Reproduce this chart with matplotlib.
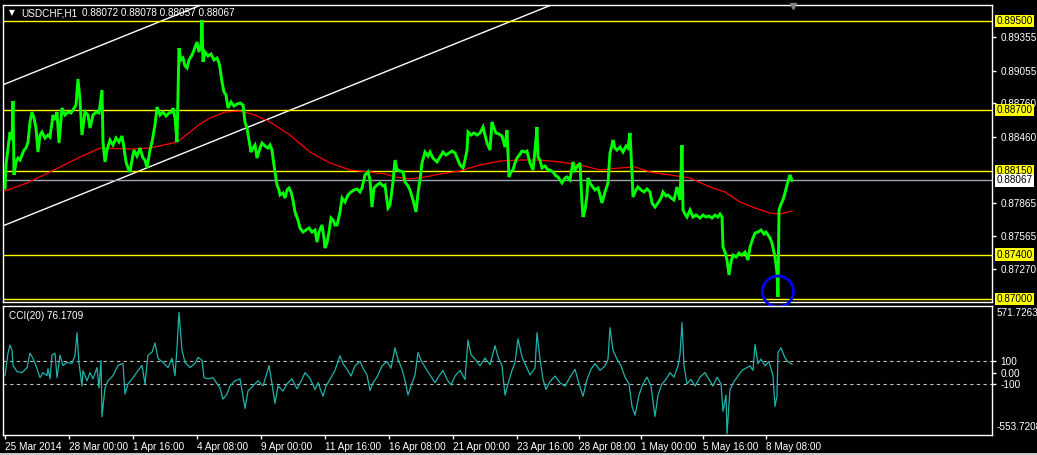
import matplotlib
matplotlib.use("Agg")
import matplotlib.pyplot as plt
import matplotlib.transforms as mtransforms
from matplotlib.patches import Ellipse, Rectangle

# ---------------- data ----------------
symbol = "USDCHF,H1"
ohlc_text = "0.88072 0.88078 0.88057 0.88067"
cci_title = "CCI(20) 76.1709"

price_bars = [
    0, 1, 3, 5, 7, 8, 9, 11, 13, 15, 17, 19, 21, 23, 25, 27, 29, 31, 33, 35,
    37, 40, 43, 45, 48, 50, 52, 54, 57, 60, 63, 66, 68, 71, 73, 75, 77, 80, 83, 85,
    88, 91, 94, 97, 98, 100, 102, 105, 108, 111, 114, 117, 119, 121, 123, 125, 127, 129, 132, 135,
    138, 140, 142, 145, 147, 150, 152, 155, 158, 161, 164, 167, 168, 170, 172, 174, 176, 178, 180, 182,
    184, 187, 189, 192, 194, 196, 197, 198, 200, 203, 206, 209, 212, 214, 215, 217, 219, 221, 223, 226,
    229, 232, 235, 238, 240, 242, 244, 246, 248, 250, 252, 255, 257, 260, 263, 265, 267, 268, 270, 272,
    274, 275, 278, 280, 282, 284, 286, 288, 290, 293, 295, 298, 301, 304, 307, 310, 312, 314, 317, 319,
    320, 322, 324, 326, 328, 330, 332, 335, 337, 340, 343, 346, 349, 352, 355, 357, 360, 363, 365, 367,
    369, 372, 375, 378, 380, 383, 385, 388, 390, 392, 395, 398, 400, 403, 405, 408, 411, 413, 415, 417,
    420, 423, 425, 428, 432, 435, 438, 441, 444, 447, 450, 453, 455, 458, 460, 462, 463, 466, 469, 472,
    475, 478, 480, 482, 485, 487, 489, 491, 494, 497, 500, 502, 504, 506, 508, 510, 512, 515, 517, 520,
    522, 525, 528, 530, 532, 533, 535, 537, 540, 543, 545, 548, 551, 553, 555, 557, 560, 562, 565, 568,
    570, 572, 575, 577, 578, 580, 582, 583, 585, 587, 590, 593, 595, 597, 600, 603, 605, 607, 608, 610,
    612, 615, 618, 621, 623, 625, 627, 628, 631, 633, 636, 639, 642, 645, 647, 650, 653, 656, 658, 661,
    663, 666, 669, 672, 675, 677, 678, 680, 682, 685, 688, 691, 695, 698, 701, 704, 707, 710, 713, 715,
    717, 718, 720, 722, 724, 726, 728, 731, 734, 737, 740, 743, 745, 748, 750, 753, 756, 759, 761, 763,
    765, 767, 770, 772, 773, 774, 776, 778, 780, 782, 784, 785, 787,
]
price_close = [
    0.87999, 0.88206, 0.88358, 0.88502, 0.88430, 0.88781, 0.88116, 0.88233, 0.88268, 0.88250,
    0.88295, 0.88340, 0.88358, 0.88412, 0.88592, 0.88682, 0.88628, 0.88538, 0.88322, 0.88475,
    0.88502, 0.88448, 0.88475, 0.88457, 0.88655, 0.88610, 0.88682, 0.88403, 0.88718, 0.88655,
    0.88682, 0.88673, 0.88700, 0.88745, 0.88979, 0.88790, 0.88475, 0.88682, 0.88655, 0.88538,
    0.88655, 0.88682, 0.88673, 0.88880, 0.88412, 0.88233, 0.88340, 0.88430, 0.88385, 0.88448,
    0.88412, 0.88466, 0.88358, 0.88233, 0.88179, 0.88143, 0.88250, 0.88340, 0.88286, 0.88358,
    0.88268, 0.88250, 0.88179, 0.88340, 0.88412, 0.88565, 0.88727, 0.88655, 0.88682, 0.88646,
    0.88673, 0.88682, 0.88718, 0.88628, 0.88412, 0.89257, 0.89150, 0.89167, 0.89096, 0.89078,
    0.89150, 0.89194, 0.89239, 0.89311, 0.89221, 0.89284, 0.89509, 0.89132, 0.89221, 0.89185,
    0.89203, 0.89150, 0.89167, 0.89123, 0.89078, 0.88952, 0.88862, 0.88835, 0.88718, 0.88772,
    0.88736, 0.88754, 0.88763, 0.88745, 0.88592, 0.88538, 0.88430, 0.88322, 0.88358, 0.88385,
    0.88268, 0.88358, 0.88403, 0.88376, 0.88358, 0.88385, 0.88340, 0.88268, 0.88143, 0.88026,
    0.87981, 0.87936, 0.87954, 0.87909, 0.87981, 0.87999, 0.87963, 0.87891, 0.87783, 0.87711,
    0.87639, 0.87603, 0.87621, 0.87639, 0.87603, 0.87621, 0.87513, 0.87603, 0.87666, 0.87549,
    0.87459, 0.87504, 0.87603, 0.87729, 0.87711, 0.87666, 0.87666, 0.87783, 0.87909, 0.87873,
    0.87936, 0.87963, 0.87981, 0.87990, 0.87963, 0.87999, 0.88116, 0.88143, 0.88071, 0.87828,
    0.87999, 0.88026, 0.88044, 0.88017, 0.88026, 0.87819, 0.87846, 0.88053, 0.88250, 0.88161,
    0.88152, 0.88143, 0.88053, 0.88017, 0.87981, 0.87891, 0.87783, 0.87954, 0.88071, 0.88224,
    0.88322, 0.88286, 0.88322, 0.88268, 0.88233, 0.88277, 0.88322, 0.88295, 0.88313, 0.88331,
    0.88313, 0.88250, 0.88206, 0.88179, 0.88250, 0.88340, 0.88502, 0.88475, 0.88493, 0.88475,
    0.88493, 0.88547, 0.88475, 0.88403, 0.88340, 0.88592, 0.88538, 0.88493, 0.88484, 0.88466,
    0.88367, 0.88520, 0.88098, 0.88143, 0.88161, 0.88224, 0.88268, 0.88304, 0.88331, 0.88322,
    0.88331, 0.88224, 0.88161, 0.88340, 0.88547, 0.88277, 0.88250, 0.88179, 0.88197, 0.88161,
    0.88161, 0.88143, 0.88107, 0.88098, 0.88071, 0.88044, 0.88089, 0.88098, 0.88071, 0.88233,
    0.88161, 0.88188, 0.88224, 0.87864, 0.87738, 0.87801, 0.87936, 0.88089, 0.88044, 0.88017,
    0.87981, 0.87999, 0.87936, 0.87864, 0.87963, 0.88044, 0.88313, 0.88385, 0.88430, 0.88358,
    0.88340, 0.88367, 0.88322, 0.88376, 0.88358, 0.88493, 0.88134, 0.87918, 0.87981, 0.88008,
    0.87981, 0.87963, 0.87990, 0.87963, 0.87864, 0.87828, 0.87864, 0.87909, 0.87963, 0.87927,
    0.87936, 0.87909, 0.87891, 0.88008, 0.87891, 0.88385, 0.87801, 0.87765, 0.87738, 0.87801,
    0.87738, 0.87756, 0.87729, 0.87756, 0.87738, 0.87747, 0.87729, 0.87756, 0.87738, 0.87765,
    0.87738, 0.87468, 0.87423, 0.87351, 0.87217, 0.87334, 0.87396, 0.87378, 0.87414, 0.87396,
    0.87423, 0.87351, 0.87468, 0.87549, 0.87594, 0.87603, 0.87621, 0.87585, 0.87603, 0.87576,
    0.87549, 0.87504, 0.87378, 0.87235, 0.87019, 0.87801, 0.87855, 0.87891, 0.87954, 0.88026,
    0.88089, 0.88116, 0.88067,
]

ma_bars = [0, 22, 45, 75, 95, 125, 145, 172, 185, 195, 205, 220, 235, 250, 265, 285, 305, 325,
           345, 365, 380, 390, 405, 420, 435, 455, 475, 495, 515, 535, 555, 575, 595, 615, 630,
           645, 665, 685, 705, 720, 735, 750, 765, 775, 787]
ma_values = [0.87972, 0.88044, 0.88143, 0.88277, 0.88358, 0.88349, 0.88358, 0.88412, 0.88502,
             0.88574, 0.88628, 0.88682, 0.88691, 0.88655, 0.88592, 0.88475, 0.88322, 0.88224,
             0.88161, 0.88143, 0.88125, 0.88098, 0.88080, 0.88098, 0.88125, 0.88152, 0.88206,
             0.88242, 0.88250, 0.88250, 0.88233, 0.88206, 0.88161, 0.88179, 0.88188, 0.88143,
             0.88116, 0.88089, 0.88008, 0.87963, 0.87873, 0.87819, 0.87774, 0.87765, 0.87792]

cci_bars = [0, 3, 5, 7, 8, 12, 17, 22, 25, 28, 32, 35, 38, 42, 43, 45, 47, 50, 52, 55,
            58, 62, 67, 70, 72, 74, 77, 78, 82, 85, 88, 92, 94, 96, 97, 100, 103, 108, 113, 118,
            120, 123, 128, 133, 137, 140, 143, 147, 150, 153, 158, 163, 167, 170, 172, 174, 177, 180, 185, 190,
            193, 197, 199, 203, 208, 215, 218, 222, 225, 230, 235, 240, 243, 248, 253, 258, 262, 264, 267, 270,
            273, 278, 282, 287, 292, 297, 300, 305, 310, 313, 318, 321, 325, 330, 335, 338, 342, 346, 350, 355,
            358, 362, 365, 368, 372, 377, 382, 386, 390, 393, 397, 400, 403, 406, 410, 413, 416, 420, 425, 430,
            434, 438, 442, 446, 450, 455, 460, 463, 466, 470, 475, 480, 485, 490, 493, 497, 500, 503, 507, 510,
            513, 517, 521, 525, 530, 532, 535, 538, 541, 545, 550, 555, 560, 565, 570, 574, 578, 582, 586, 590,
            595, 600, 603, 605, 608, 612, 616, 620, 624, 627, 630, 634, 638, 642, 646, 650, 653, 657, 661, 665,
            669, 673, 675, 677, 679, 682, 686, 690, 695, 700, 704, 708, 712, 716, 718, 721, 722, 725, 729, 733,
            737, 741, 745, 748, 750, 753, 756, 760, 764, 768, 770, 772, 773, 776, 780, 784, 787]
cci_values = [-27, 173, 245, 200, 64, 9, 0, 45, 173, 127, 36, -45, 0, -27, 36, -55, 155, 173, -45, 155,
              64, 91, 82, 155, 355, 82, -118, 18, -73, 0, -55, 45, -136, 109, -391, -136, -73, -27, 64, 82,
              -191, -100, -45, 18, 64, -100, 155, 182, 264, 127, 91, 45, 127, -27, 218, 536, 200, 91, 45, 82,
              136, 109, -45, -55, -45, -136, -236, -191, -118, -73, -55, -318, -164, -118, -73, -118, 0, 64, -100, -273,
              -118, -164, -100, -55, -145, -60, 0, -50, -150, -90, -210, -120, -60, 20, 150, 80, 30, -30, 60, 100,
              40, -20, -160, -90, -40, 60, 100, 40, 220, 120, 30, -70, -200, -120, -20, 180, 110, 50, -20, -90,
              -30, 20, -60, -110, -30, 20, -60, 290, 160, 120, 60, 130, 70, 240, 140, 60, -200, -100, 20, 90,
              300, 140, 60, -20, 40, 355, 120, -60, -150, -80, -30, -90, -120, -40, 30, -100, -210, -60, 30, 80,
              20, 60, 120, 400, 200, 120, 60, -40, -100, -300, -380, -200, -100, -40, -120, -390, -200, -100, -60, 0,
              -40, 60, 160, 445, 60, -100, -60, -120, -40, 0, -60, -120, -40, -100, -345, -200, -545, -150, -80, -30,
              20, 40, 60, 20, 250, 80, 120, 60, 100, -30, -300, -210, 180, 220, 130, 90, 76]

hline_levels = [0.89500, 0.88700, 0.88150, 0.87400, 0.87000]
hline_labels = ["0.89500", "0.88700", "0.88150", "0.87400", "0.87000"]
current_price = 0.88067
current_label = "0.88067"

price_ticks = [0.89355, 0.89055, 0.88760, 0.88460, 0.87865, 0.87565, 0.87270]
price_tick_labels = ["0.89355", "0.89055", "0.88760", "0.88460", "0.87865", "0.87565", "0.87270"]

channel_lower = [(0, 0.87666), (390, 0.89078)]
channel_upper = [(0, 0.88934), (390, 0.90346)]

circle_center = (773, 0.87068)

cci_levels = [100, -100]
cci_ticks = [100, 0, -100]
cci_tick_labels = ["100", "0.00", "-100"]
cci_max_label, cci_max_pos = "571.7263", 531
cci_min_label, cci_min_pos = "-553.7208", -487

time_ticks = [0, 64, 128, 192, 256, 320, 384, 448, 512, 574, 636, 698, 761]
time_labels = ["25 Mar 2014", "28 Mar 00:00", "1 Apr 16:00", "4 Apr 08:00", "9 Apr 00:00",
               "11 Apr 16:00", "16 Apr 08:00", "21 Apr 00:00", "23 Apr 16:00", "28 Apr 08:00",
               "1 May 00:00", "5 May 16:00", "8 May 08:00"]

# ---------------- figure ----------------
W, H = 1037, 455
FONT = "Liberation Sans"
FS = 7.2
fig = plt.figure(figsize=(W / 100, H / 100), dpi=100, facecolor="black")

ax = fig.add_axes([3 / W, 1 - 302 / H, 989 / W, 297 / H], facecolor="black")
ax2 = fig.add_axes([3 / W, 1 - 435 / H, 989 / W, 129 / H], facecolor="black")

XL = (-2, 987)
for a in (ax, ax2):
    a.set_xlim(*XL)
    for s in a.spines.values():
        s.set_color("white")
        s.set_linewidth(1.0)

ax.set_ylim(0.86974, 0.89644)

# channel lines
ax.axline(channel_lower[0], channel_lower[1], color="white", lw=1.0, zorder=2)
ax.axline(channel_upper[0], channel_upper[1], color="white", lw=1.0, zorder=2)

# horizontal levels
for lv in hline_levels:
    ax.axhline(lv, color="#FFFF00", lw=1.0, zorder=2)
ax.axhline(current_price, color="#9AA6B2", lw=1.0, zorder=2)

# MA and price
ax.plot(ma_bars, ma_values, color="#FF0000", lw=0.9, zorder=3)
ax.plot(price_bars, price_close, color="#00FF00", lw=2.1, zorder=4, solid_joinstyle="miter")

# blue circle
ell = Ellipse(circle_center, width=31, height=31 / 11125, fill=False,
              edgecolor="#0000FF", lw=2.0, zorder=5, clip_on=False)
ax.add_patch(ell)

ax.set_xticks([])
ax.yaxis.tick_right()
ax.set_yticks(price_ticks)
ax.set_yticklabels(price_tick_labels)
ax.tick_params(axis="y", colors="white", length=3, width=1, pad=3, labelsize=FS)
for lbl in ax.get_yticklabels():
    lbl.set_fontfamily(FONT)

trans = mtransforms.blended_transform_factory(ax.transAxes, ax.transData)
for lv, txt in zip(hline_levels, hline_labels):
    ax.text(1.0045, lv, txt, transform=trans, ha="left", va="center", fontsize=FS,
            family=FONT, color="black", zorder=6, clip_on=False,
            bbox=dict(boxstyle="square,pad=0.12", fc="#FFFF00", ec="none"))
ax.text(1.0045, current_price, current_label, transform=trans, ha="left", va="center",
        fontsize=FS, family=FONT, color="black", zorder=6, clip_on=False,
        bbox=dict(boxstyle="square,pad=0.12", fc="white", ec="none"))

# shift marker
ax.plot([788], [0.995], marker="v", color="#808080", ms=5,
        transform=mtransforms.blended_transform_factory(ax.transData, ax.transAxes),
        clip_on=False, zorder=7)

# header texts
fig.text(9 / W, 1 - 13 / H, "\u25BC", color="white", fontsize=5.5, family="DejaVu Sans",
         va="center", ha="left")
fig.text(21 / W, 1 - 13 / H, symbol, color="white", fontsize=FS, family=FONT,
         va="center", ha="left")
fig.text(82 / W, 1 - 13 / H, ohlc_text, color="white", fontsize=FS, family=FONT,
         va="center", ha="left")

# ---------------- CCI ----------------
ax2.set_ylim(-555, 593)
for lv in cci_levels:
    ax2.axhline(lv, color="#C0C0C0", lw=0.8, dashes=(3, 3), zorder=2)
ax2.plot(cci_bars, cci_values, color="#20B2AA", lw=0.9, zorder=3)
ax2.yaxis.tick_right()
ax2.set_yticks(cci_ticks)
ax2.set_yticklabels(cci_tick_labels)
ax2.tick_params(axis="y", colors="white", length=3, width=1, pad=3, labelsize=FS)
for lbl in ax2.get_yticklabels():
    lbl.set_fontfamily(FONT)
trans2 = mtransforms.blended_transform_factory(ax2.transAxes, ax2.transData)
ax2.text(1.0045, cci_max_pos, cci_max_label, transform=trans2, ha="left", va="center",
         fontsize=FS, family=FONT, color="white", clip_on=False)
ax2.text(1.0045, cci_min_pos, cci_min_label, transform=trans2, ha="left", va="center",
         fontsize=FS, family=FONT, color="white", clip_on=False)
ax2.text(6 / 989, 1 - 10 / 129, cci_title, transform=ax2.transAxes, ha="left", va="center",
         fontsize=FS, family=FONT, color="white")

ax2.set_xticks(time_ticks)
ax2.set_xticklabels(time_labels)
ax2.tick_params(axis="x", colors="white", length=3, width=1, pad=2, labelsize=FS,
                direction="out")
for lbl in ax2.get_xticklabels():
    lbl.set_ha("left")
    lbl.set_fontfamily(FONT)

fig.patches.append(Rectangle((0, 0), 1, 2 / H, transform=fig.transFigure,
                             facecolor="#C8C8C8", edgecolor="none"))

fig.savefig("out.png", dpi=100, facecolor="black")
